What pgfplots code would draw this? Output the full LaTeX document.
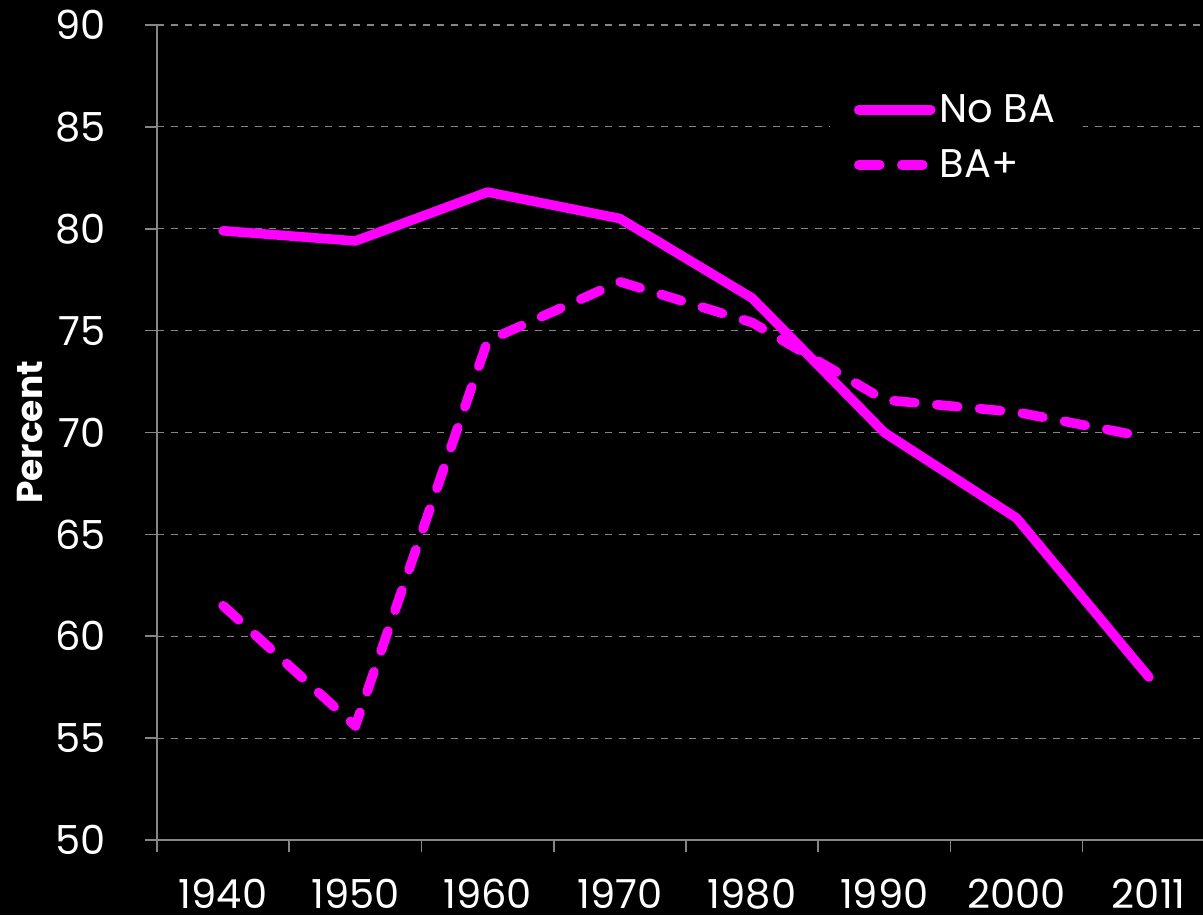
\documentclass[border=0pt]{standalone}
\usepackage{pgfplots}
\pgfplotsset{compat=1.18}
\usepackage{fontspec}
\setmainfont{Poppins}
\definecolor{mag}{RGB}{255,0,255}
\definecolor{axgray}{RGB}{134,134,134}
\begin{document}
\begin{tikzpicture}
\fill[black,use as bounding box] (-78.5pt,-37.5pt) rectangle (523pt,420pt);
\begin{axis}[
  at={(0,0)}, anchor=south west,
  scale only axis, width=523pt, height=407.5pt,
  xmin=-0.5, xmax=7.41, ymin=50, ymax=90,
  axis x line=bottom, axis y line=left,
  axis line style={-, draw=axgray, line width=0.8pt},
  tick align=outside, major tick length=6pt, minor tick length=6pt,
  tick style={draw=axgray, line width=0.8pt},
  /pgf/number format/assume math mode=true,
  ytick={50,55,...,90},
  xtick={0,...,7},
  xticklabels={1940,1950,1960,1970,1980,1990,2000,2011},
  major x tick style={draw=none},
  minor xtick={-0.5,0.5,1.5,2.5,3.5,4.5,5.5,6.5},
  ymajorgrids,
  major grid style={draw=axgray, line width=0.6pt, dash pattern=on 3.5pt off 3.5pt},
  ticklabel style={font=\fontsize{20}{24}\selectfont, text=white},
  yticklabel style={xshift=-16pt},
  xticklabel style={yshift=-12.5pt, inner sep=1pt, text depth=0pt},
  ylabel={Percent},
  ylabel style={at={(axis description cs:-0.1214,0.5)}, rotate=0, anchor=center, font=\fontsize{18}{20}\bfseries, text=white},
  legend style={at={(rel axis cs:0.643,0.935)}, anchor=north west, fill=black, draw=none, text=white,
    font=\fontsize{20}{24}\selectfont, inner xsep=12pt, inner ysep=6pt, row sep=8pt},
  legend cell align=left,
  legend image code/.code={\draw[#1] (0pt,0pt) -- (36pt,0pt);},
  clip=false,
]
\addplot[mag, line width=4.8pt, line cap=round, line join=round] coordinates {
(0,79.9) (1,79.4) (2,81.8) (3,80.5) (4,76.6) (5,70.0) (6,65.8) (7,58.0)};
\addlegendentry{No BA}
\addplot[mag, line width=4.8pt, line cap=round, line join=round, dash pattern=on 10.5pt off 11pt] coordinates {
(0,61.5) (1,55.6) (2,74.5) (3,77.4) (4,75.4) (5,71.6) (6,71.0) (7,69.75)};
\addlegendentry{BA+}
\end{axis}
\end{tikzpicture}
\end{document}
